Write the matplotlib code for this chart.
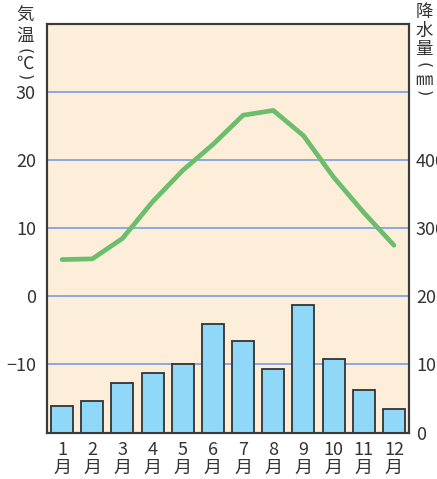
import matplotlib
matplotlib.use("Agg")
import matplotlib.pyplot as plt

months = ["1", "2", "3", "4", "5", "6", "7", "8", "9", "10", "11", "12"]
temps = [5.4, 5.5, 8.5, 13.9, 18.5, 22.3, 26.6, 27.3, 23.6, 17.5, 12.3, 7.5]
precip = [39, 47, 73, 87, 100, 159, 135, 93, 187, 108, 62, 34]
temp_ticks = [-10, 0, 10, 20, 30]
precip_ticks = [0, 100, 200, 300, 400, 500]
precip_labels = ["0", "100", "200", "300", "400", ""]
temp_title = ["気", "温", "(", "℃", ")"]
precip_title = ["降", "水", "量", "(", "㎜", ")"]

plt.rcParams["font.family"] = ["Liberation Sans Narrow", "Noto Sans CJK JP", "DejaVu Sans"]
text_col = "#333333"
W, H = 437, 479


def stack_text(fig, chars, xpix, ypix, size):
    # vertical writing: one character per position, brackets turned
    for c, y in zip(chars, ypix):
        if c in "()":
            fig.text(xpix / W, 1 - y / H, c, ha="center", va="center",
                     fontsize=size - 1, rotation=-90, color=text_col,
                     family=["DejaVu Sans"])
        else:
            fig.text(xpix / W, 1 - y / H, c, ha="center", va="center",
                     fontsize=size, color=text_col, family=["Noto Sans CJK JP"])


def main():
    fig = plt.figure(figsize=(4.37, 4.79), dpi=100)
    ax2 = fig.add_axes([0.1076, 0.097, 0.8284, 0.853])
    ax = ax2.twinx()
    # line axis above the bars
    ax.set_zorder(ax2.get_zorder() + 1)
    ax.patch.set_visible(False)
    ax2.set_facecolor("#FDEEDA")

    x = list(range(len(months)))
    ax2.bar(x, precip, width=0.73, color="#8FD8F8", edgecolor="#333333",
            linewidth=1.3, zorder=3)
    ax2.set_ylim(0, 600)
    ax2.set_xlim(-0.5, 11.5)
    ax2.set_yticks(precip_ticks)
    ax2.set_yticklabels(precip_labels)
    ax2.yaxis.tick_right()
    ax2.grid(axis="y", color="#6E96E1", linewidth=1.1, zorder=1)
    ax2.set_xticks(x)
    ax2.set_xticklabels([m + "\n月" for m in months], linespacing=1.0,
                        fontsize=11, color=text_col,
                        family=["Noto Sans CJK JP"])

    ax.plot(x, temps, color="#6CBE6C", linewidth=3.4, solid_capstyle="round")
    ax.set_ylim(-20, 40)
    ax.set_yticks(temp_ticks)
    ax.set_yticklabels(["\u221210" if t == -10 else str(t) for t in temp_ticks])
    ax.yaxis.tick_left()

    for a in (ax, ax2):
        for s in a.spines.values():
            s.set_color("#3a3a3a")
            s.set_linewidth(1.5)
        a.tick_params(length=0, labelsize=13, colors=text_col)
    ax.tick_params(axis="y", pad=8)
    ax2.tick_params(axis="y", pad=5)
    ax2.tick_params(axis="x", pad=6)

    stack_text(fig, temp_title, 25, [16, 36, 51, 64, 77], 12.5)
    stack_text(fig, precip_title, 424, [12, 31, 49, 65, 80, 93], 12.5)

    fig.savefig("out.png", dpi=100)


if __name__ == "__main__":
    main()
